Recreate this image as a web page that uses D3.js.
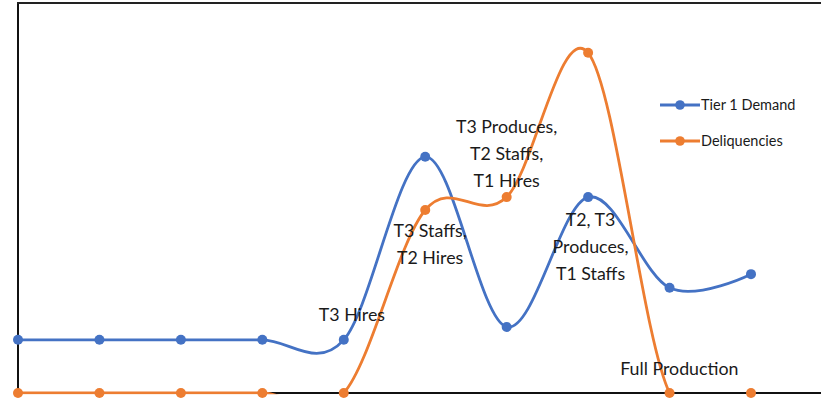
<!DOCTYPE html>
<html>
<head>
<meta charset="utf-8">
<script src="https://cdn.jsdelivr.net/npm/d3@7"></script>
<style>
  html, body { margin: 0; padding: 0; background: #fff; }
  svg { display: block; }
  text { font-family: Lato, "Open Sans", sans-serif; fill: #1a1a1a; }
</style>
</head>
<body>
<svg id="chart" width="821" height="398"></svg>
<script>
// Stages along the timeline (unlabelled on the axis)
const stages = [0, 1, 2, 3, 4, 5, 6, 7, 8, 9];
const tier1Demand = [13.6, 13.6, 13.6, 13.6, 13.6, 60.4, 16.9, 50.1, 26.9, 30.4];
const deliquencies = [0, 0, 0, 0, 0, 46.8, 50.1, 87.0, 0, 0];
const seriesNames = ["Tier 1 Demand", "Deliquencies"];
const seriesColors = ["#4472C4", "#ED7D31"];

// Callouts: anchored at a stage and value, one entry per text line
const callouts = [
  { stage: 4.1, value: 18.3, lines: ["T3 Hires"] },
  { stage: 5.06, value: 40.0, lines: ["T3 Staffs,", "T2 Hires"] },
  { stage: 6.0, value: 66.4, lines: ["T3 Produces,", "T2 Staffs,", "T1 Hires"] },
  { stage: 7.03, value: 42.6, lines: ["T2, T3", "Produces,", "T1 Staffs"] },
  { stage: 8.12, value: 4.5, lines: ["Full Production"] }
];

const W = 821, H = 398;
const plot = { left: 18, top: 2, right: 821, bottom: 393 };

const svg = d3.select("#chart");

const x = d3.scaleLinear().domain([0, 9]).range([plot.left, 751]);
const y = d3.scaleLinear().domain([0, 100]).range([plot.bottom, plot.top]);

svg.append("defs").append("clipPath").attr("id", "plotClip")
  .append("rect")
  .attr("x", plot.left).attr("y", plot.top)
  .attr("width", plot.right - plot.left)
  .attr("height", plot.bottom - plot.top + 1.3);

// Frame: left axis, top edge, bottom axis
const frame = svg.append("g").attr("stroke", "#111").attr("stroke-width", 2).attr("fill", "none");
frame.append("line").attr("x1", plot.left).attr("x2", plot.left).attr("y1", plot.top).attr("y2", plot.bottom);
frame.append("line").attr("x1", plot.left - 1).attr("x2", W).attr("y1", plot.top + 1).attr("y2", plot.top + 1).attr("stroke", "#222");
const xAxis = svg.append("g").attr("transform", `translate(0,${plot.bottom})`)
  .call(d3.axisBottom(x).tickValues([]).tickSizeOuter(0));
xAxis.select(".domain").attr("stroke", "#111").attr("stroke-width", 2)
  .attr("d", `M${plot.left},0H${W}`);

const line = d3.line()
  .x((d, i) => x(stages[i]))
  .y(d => y(d))
  .curve(d3.curveCatmullRom.alpha(0));

[tier1Demand, deliquencies].forEach((vals, k) => {
  const g = svg.append("g");
  g.append("path")
    .datum(vals)
    .attr("clip-path", "url(#plotClip)")
    .attr("fill", "none")
    .attr("stroke", seriesColors[k])
    .attr("stroke-width", 2.8)
    .attr("d", line);
  g.selectAll("circle").data(vals).join("circle")
    .attr("cx", (d, i) => x(stages[i]))
    .attr("cy", d => y(d))
    .attr("r", 5)
    .attr("fill", seriesColors[k]);
});

// Callout text
const lineGap = 27;
const cg = svg.append("g").attr("text-anchor", "middle").attr("font-size", 17.8);
callouts.forEach(c => {
  const t = cg.append("text")
    .attr("x", x(c.stage))
    .attr("y", y(c.value));
  c.lines.forEach((s, i) => {
    t.append("tspan").attr("x", x(c.stage)).attr("dy", i === 0 ? 0 : lineGap).text(s);
  });
});

// Legend
const legend = svg.append("g").attr("font-size", 14.5);
seriesNames.forEach((name, k) => {
  const ly = 105 + k * 36;
  legend.append("line").attr("x1", 660).attr("x2", 700).attr("y1", ly).attr("y2", ly)
    .attr("stroke", seriesColors[k]).attr("stroke-width", 2.8);
  legend.append("circle").attr("cx", 680).attr("cy", ly).attr("r", 4.8).attr("fill", seriesColors[k]);
  legend.append("text").attr("x", 701).attr("y", ly + 5).text(name);
});
</script>
</body>
</html>
